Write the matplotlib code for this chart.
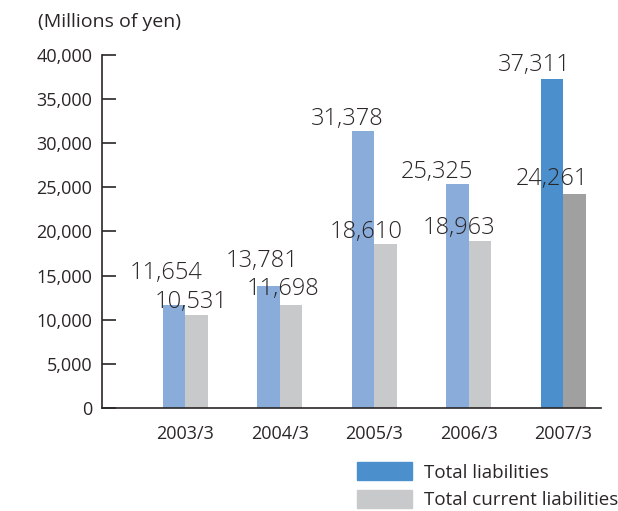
import matplotlib.pyplot as plt
from matplotlib.patches import Patch

# data (millions of yen)
years = ["2003/3", "2004/3", "2005/3", "2006/3", "2007/3"]
total_liabilities = [11654, 13781, 31378, 25325, 37311]
current_liabilities = [10531, 11698, 18610, 18963, 24261]

# label nudges in pixels (dx, dy above bar top)
total_offsets = [(-8, 26), (-6, 19), (-16, 6), (-21, 6), (-18, 8)]
current_offsets = [(-5, 7), (-8, 10), (-19, 6), (-21, 7), (-22, 9)]

blue_light = "#8aacdb"
blue_dark = "#4b8fcc"
gray_light = "#c8c9cb"
gray_dark = "#a0a0a0"
txt = "#2b2626"

plt.rcParams['font.family'] = ['Open Sans', 'DejaVu Sans']

fig = plt.figure(figsize=(6.18, 5.11), dpi=100)
ax = fig.add_axes([0.165, 0.2016, 0.8075, 0.6908])

w = 0.238
x = list(range(len(years)))
last = len(years) - 1
c_tot = [blue_dark if i == last else blue_light for i in x]
c_cur = [gray_dark if i == last else gray_light for i in x]
ax.bar([i - w / 2 for i in x], total_liabilities, w, color=c_tot)
ax.bar([i + w / 2 for i in x], current_liabilities, w, color=c_cur)

for i in x:
    dx, dy = total_offsets[i]
    ax.annotate(f"{total_liabilities[i]:,}", (i - w / 2, total_liabilities[i]),
                xytext=(dx, dy), textcoords='offset pixels', ha='center', va='baseline',
                fontsize=17, fontweight='light', color=txt, annotation_clip=False)
    dx, dy = current_offsets[i]
    ax.annotate(f"{current_liabilities[i]:,}", (i + w / 2, current_liabilities[i]),
                xytext=(dx, dy), textcoords='offset pixels', ha='center', va='baseline',
                fontsize=17, fontweight='light', color=txt, annotation_clip=False)

ax.set_xlim(-0.88, 4.40)
ax.set_ylim(0, 40000)
ax.set_yticks(range(0, 40001, 5000))
ax.set_yticklabels([f"{v:,}" for v in range(0, 40001, 5000)])
ax.set_xticks(x)
ax.set_xticklabels(years)

for s in ["top", "right"]:
    ax.spines[s].set_visible(False)
for s in ["left", "bottom"]:
    ax.spines[s].set_color(txt)
    ax.spines[s].set_linewidth(1.2)

ax.tick_params(axis='y', direction='in', length=10, width=1.2, color=txt,
               labelsize=13, labelcolor=txt, pad=7)
ax.tick_params(axis='x', length=0, labelsize=13, labelcolor=txt, pad=12)

fig.text(38 / 618, 1 - 22 / 511, "(Millions of yen)", fontsize=14, color=txt,
         ha='left', va='center')

handles = [Patch(color=blue_dark), Patch(color=gray_light)]
fig.legend(handles, ["Total liabilities", "Total current liabilities"],
           loc='upper left', bbox_to_anchor=(344 / 618, 1 - 449 / 511),
           frameon=False, fontsize=13.5, handlelength=2.95, handleheight=1.1,
           handletextpad=0.6, labelspacing=0.45, borderpad=0.2, labelcolor=txt)

fig.savefig("out.png", dpi=100)
